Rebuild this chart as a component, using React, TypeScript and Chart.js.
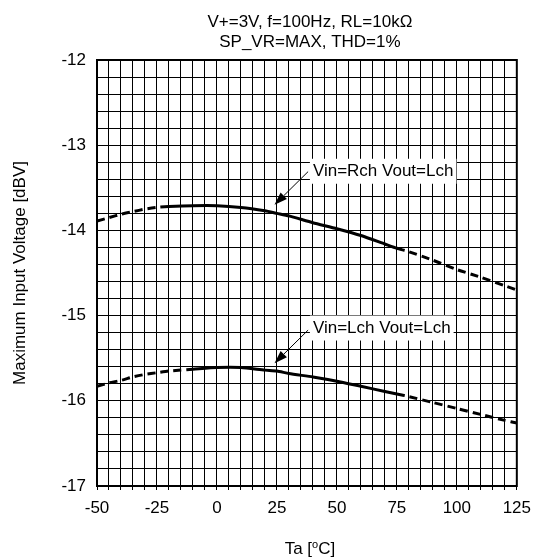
import React, { useEffect, useRef } from 'react';
import { Chart, registerables } from 'chart.js';

Chart.register(...registerables);

// ---- data ----
const temperatures = [-50, -45, -40, -35, -30, -25, -20, -10, 0, 10, 20, 25, 30, 40, 50, 60, 70, 75, 80, 90, 100, 110, 120, 125];
const rchValues = [-13.89, -13.85, -13.81, -13.78, -13.75, -13.73, -13.72, -13.71, -13.71, -13.73, -13.77, -13.8, -13.83, -13.91, -13.98, -14.06, -14.16, -14.21, -14.25, -14.35, -14.46, -14.55, -14.65, -14.7];
const lchValues = [-15.83, -15.79, -15.76, -15.72, -15.69, -15.67, -15.65, -15.63, -15.61, -15.61, -15.64, -15.65, -15.68, -15.72, -15.77, -15.83, -15.89, -15.92, -15.95, -16.02, -16.09, -16.16, -16.23, -16.26];
const rchSolidRange = [-20, 75];
const lchSolidRange = [-10, 75];
const xTickLabels = [-50, -25, 0, 25, 50, 75, 100, 125];
const yTickLabels = [-17, -16, -15, -14, -13, -12];
const titleLines = ['V+=3V, f=100Hz, RL=10kΩ', 'SP_VR=MAX, THD=1%'];
const yAxisTitle = 'Maximum Input Voltage [dBV]';
const xAxisTitleParts = ['Ta [', 'o', 'C]'];
const annotationTexts = ['Vin=Rch Vout=Lch', 'Vin=Lch Vout=Lch'];
const annotationLabelAt = [[40, -13.3], [40, -15.14]];
const annotationArrowFrom = [[38, -13.31], [38, -15.17]];
const annotationArrowTo = [[24, -13.7], [24, -15.56]];

const FONT = "'Liberation Sans', Arial, sans-serif";

const dashedOutside = (range: number[]) => (ctx: any) =>
  ctx.p0.parsed.x < range[0] || ctx.p1.parsed.x > range[1] ? [8, 5] : [];

const decorPlugin = {
  id: 'decor',
  beforeDatasetsDraw(chart: any) {
    const { ctx, chartArea } = chart;
    ctx.save();
    ctx.strokeStyle = '#000';
    ctx.lineWidth = 2;
    ctx.strokeRect(chartArea.left, chartArea.top, chartArea.right - chartArea.left, chartArea.bottom - chartArea.top);
    ctx.restore();
  },
  afterDatasetsDraw(chart: any) {
    const { ctx, chartArea, scales } = chart;
    const xs = scales.x;
    const ys = scales.y;
    ctx.save();
    ctx.fillStyle = '#000';
    ctx.font = `17px ${FONT}`;
    // title
    ctx.textAlign = 'center';
    ctx.textBaseline = 'alphabetic';
    const cx = (chartArea.left + chartArea.right) / 2 + 3;
    ctx.fillText(titleLines[0], cx, chartArea.top - 33);
    ctx.fillText(titleLines[1], cx, chartArea.top - 13);
    // y title
    ctx.save();
    ctx.translate(20, (chartArea.top + chartArea.bottom) / 2);
    ctx.rotate(-Math.PI / 2);
    ctx.textBaseline = 'middle';
    ctx.fillText(yAxisTitle, 0, 0);
    ctx.restore();
    // x title with superscript
    ctx.textAlign = 'left';
    ctx.textBaseline = 'alphabetic';
    const p0 = xAxisTitleParts[0];
    const p2 = xAxisTitleParts[2];
    ctx.font = `17px ${FONT}`;
    const w0 = ctx.measureText(p0).width;
    const w2 = ctx.measureText(p2).width;
    ctx.font = `11px ${FONT}`;
    const w1 = ctx.measureText(xAxisTitleParts[1]).width;
    const total = w0 + w1 + w2;
    let xx = cx - total / 2;
    const baseY = chart.height - 3;
    ctx.font = `17px ${FONT}`;
    ctx.fillText(p0, xx, baseY);
    xx += w0;
    ctx.font = `11px ${FONT}`;
    ctx.fillText(xAxisTitleParts[1], xx, baseY - 6);
    xx += w1;
    ctx.font = `17px ${FONT}`;
    ctx.fillText(p2, xx, baseY);

    // annotations
    for (let i = 0; i < annotationTexts.length; i++) {
      const tx = xs.getPixelForValue(annotationLabelAt[i][0]);
      const ty = ys.getPixelForValue(annotationLabelAt[i][1]);
      ctx.font = `17px ${FONT}`;
      const tw = ctx.measureText(annotationTexts[i]).width;
      ctx.fillStyle = '#fff';
      ctx.fillRect(tx - 3, ty - 12, tw + 6, 25);
      ctx.fillStyle = '#000';
      ctx.textAlign = 'left';
      ctx.textBaseline = 'middle';
      ctx.fillText(annotationTexts[i], tx, ty + 1);
      const ax0 = xs.getPixelForValue(annotationArrowFrom[i][0]);
      const ay0 = ys.getPixelForValue(annotationArrowFrom[i][1]);
      const ax1 = xs.getPixelForValue(annotationArrowTo[i][0]);
      const ay1 = ys.getPixelForValue(annotationArrowTo[i][1]);
      const ang = Math.atan2(ay1 - ay0, ax1 - ax0);
      const hl = 13;
      const hw = 4.5;
      const bx = ax1 - hl * Math.cos(ang);
      const by = ay1 - hl * Math.sin(ang);
      ctx.strokeStyle = '#000';
      ctx.lineWidth = 1;
      ctx.beginPath();
      ctx.moveTo(ax0, ay0);
      ctx.lineTo(bx, by);
      ctx.stroke();
      ctx.beginPath();
      ctx.moveTo(ax1, ay1);
      ctx.lineTo(bx + hw * Math.sin(ang), by - hw * Math.cos(ang));
      ctx.lineTo(bx - hw * Math.sin(ang), by + hw * Math.cos(ang));
      ctx.closePath();
      ctx.fill();
    }
    ctx.restore();
  },
};

export default function App() {
  const ref = useRef<HTMLCanvasElement | null>(null);
  useEffect(() => {
    if (!ref.current) return;
    Chart.defaults.font.family = FONT;
    Chart.defaults.font.size = 17;
    Chart.defaults.color = '#000';
    const chart = new Chart(ref.current, {
      type: 'line',
      data: {
        datasets: [
          {
            label: 'Vin=Rch Vout=Lch',
            data: temperatures.map((t, i) => ({ x: t, y: rchValues[i] })),
            borderColor: '#000',
            borderWidth: 3,
            pointRadius: 0,
            tension: 0.2,
            fill: false,
            segment: { borderDash: dashedOutside(rchSolidRange) },
          },
          {
            label: 'Vin=Lch Vout=Lch',
            data: temperatures.map((t, i) => ({ x: t, y: lchValues[i] })),
            borderColor: '#000',
            borderWidth: 3,
            pointRadius: 0,
            tension: 0.2,
            fill: false,
            segment: { borderDash: dashedOutside(lchSolidRange) },
          },
        ],
      },
      options: {
        animation: false,
        responsive: false,
        devicePixelRatio: 1,
        layout: { padding: { left: 0, right: 15, top: 60, bottom: 0 } },
        plugins: { legend: { display: false }, tooltip: { enabled: false }, title: { display: false } },
        scales: {
          x: {
            type: 'linear',
            min: -50,
            max: 125,
            afterFit: (s: any) => { s.height = 71; },
            ticks: {
              stepSize: 5,
              autoSkip: false,
              maxRotation: 0,
              padding: 8,
              font: { size: 17, family: FONT },
              color: '#000',
              callback: (v: any) => (xTickLabels.some((t) => Math.abs(t - v) < 1e-6) ? String(Math.round(v)) : ''),
            },
            grid: { color: '#000', lineWidth: 1, drawTicks: true, tickLength: 4 },
            border: { display: true, color: '#000', width: 2 },
          },
          y: {
            type: 'linear',
            min: -17,
            max: -12,
            afterFit: (s: any) => { s.width = 97; },
            ticks: {
              stepSize: 0.2,
              autoSkip: false,
              padding: 11,
              font: { size: 17, family: FONT },
              color: '#000',
              callback: (v: any) => {
                const hit = yTickLabels.find((t) => Math.abs(t - v) < 1e-6);
                return hit !== undefined ? String(hit) : '';
              },
            },
            grid: { color: '#000', lineWidth: 1, drawTicks: false },
            border: { display: true, color: '#000', width: 2 },
          },
        },
      },
      plugins: [decorPlugin],
    } as any);
    return () => chart.destroy();
  }, []);
  return (
    <div style={{ position: 'absolute', left: 0, top: 0, width: 539, height: 557, background: '#fff' }}>
      <canvas ref={ref} width={539} height={557} style={{ width: 539, height: 557, display: 'block' }} />
    </div>
  );
}
